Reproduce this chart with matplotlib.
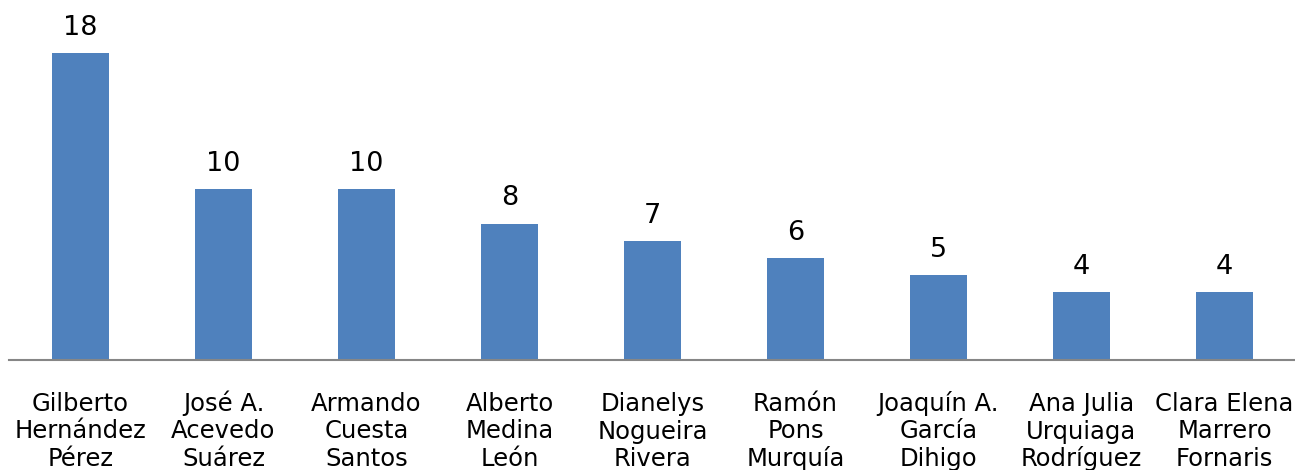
import matplotlib
matplotlib.use("Agg")
import matplotlib.pyplot as plt
import matplotlib.transforms as mtransforms

categories = ["Gilberto\nHernández\nPérez", "José A.\nAcevedo\nSuárez", "Armando\nCuesta\nSantos",
              "Alberto\nMedina\nLeón", "Dianelys\nNogueira\nRivera", "Ramón\nPons\nMurquía",
              "Joaquín A.\nGarcía\nDihigo", "Ana Julia\nUrquiaga\nRodríguez", "Clara Elena\nMarrero\nFornaris"]
values = [18, 10, 10, 8, 7, 6, 5, 4, 4]

plt.rcParams['font.family'] = ['DejaVu Sans']
fig = plt.figure(figsize=(12.95, 4.7), dpi=100)
ax = fig.add_axes([9/1295, 110/470, 1287/1295, 360/470])
x = list(range(len(categories)))
bars = ax.bar(x, values, width=0.4, color="#4F81BD")
ax.set_xlim(-0.5, len(categories) - 0.5)
ax.set_ylim(0, 21.1)
for xi, v in zip(x, values):
    ax.annotate(str(v), (xi, v), xytext=(0, 13), textcoords="offset points",
                ha="center", va="baseline", fontsize=19.5, color="black")

base = ax.get_xaxis_transform()
for xi, lab in zip(x, categories):
    for i, line in enumerate(lab.split("\n")):
        tr = mtransforms.offset_copy(base, fig=fig, x=0, y=-(51 + 27.5 * i), units="dots")
        ax.text(xi, 0, line, transform=tr, ha="center", va="baseline",
                fontsize=17.5, color="black", clip_on=False)

ax.set_xticks([])
ax.set_yticks([])
for s in ["top", "right", "left"]:
    ax.spines[s].set_visible(False)
ax.spines["bottom"].set_color("#868686")
ax.spines["bottom"].set_linewidth(1.5)
fig.savefig("out.png", dpi=100)
